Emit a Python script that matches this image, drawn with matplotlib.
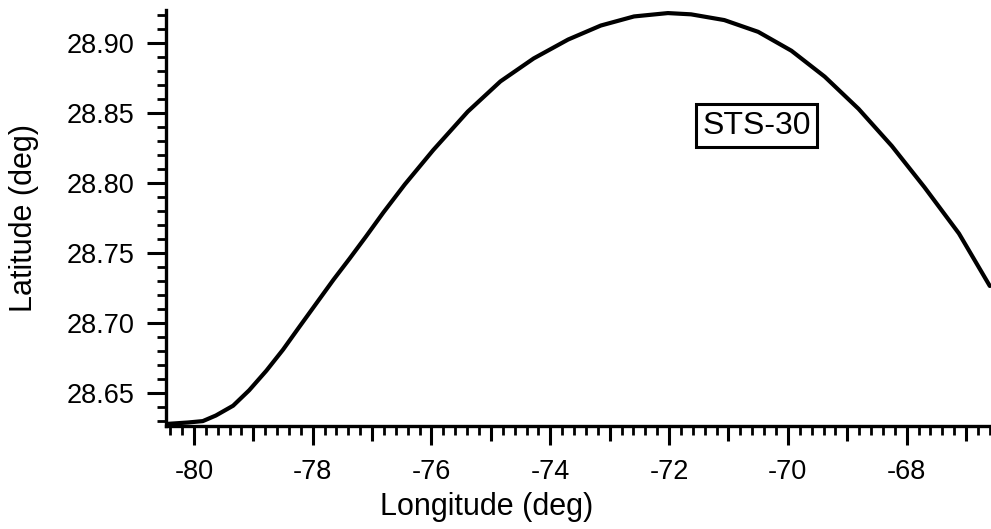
import matplotlib
matplotlib.use("Agg")
import matplotlib.pyplot as plt
from matplotlib.ticker import MultipleLocator, FormatStrFormatter

# ---- data ----
longitude = [-80.45, -80.10, -79.85, -79.63, -79.34, -79.07, -78.78, -78.50,
             -78.23, -77.94, -77.65, -77.38, -77.10, -76.81, -76.45, -75.97,
             -75.39, -74.84, -74.28, -73.70, -73.15, -72.59, -72.02, -71.63,
             -71.07, -70.50, -69.94, -69.38, -68.81, -68.25, -67.70, -67.12,
             -66.60]
latitude = [28.628, 28.629, 28.630, 28.634, 28.641, 28.652, 28.666, 28.681,
            28.697, 28.714, 28.731, 28.746, 28.762, 28.779, 28.799, 28.8236,
            28.851, 28.8726, 28.889, 28.9025, 28.9125, 28.9190, 28.9214, 28.9205,
            28.9164, 28.908, 28.8945, 28.876, 28.853, 28.8265, 28.797, 28.764,
            28.7265]
x_major_ticks = [-80, -78, -76, -74, -72, -70, -68]
x_mid_ticks = [-79, -77, -75, -73, -71, -69, -67]
y_major_ticks = [28.65, 28.70, 28.75, 28.80, 28.85, 28.90]
label_text = "STS-30"
label_pos = (-70.53, 28.841)

plt.rcParams['font.family'] = ['Liberation Sans', 'DejaVu Sans']

fig = plt.figure(figsize=(9.91, 5.29), dpi=100)
ax = fig.add_axes([166/991, 1-426/529, 1-166/991, (426-10)/529])

ax.plot(longitude, latitude, color='black', lw=3.0, solid_joinstyle='round',
        solid_capstyle='round')

ax.set_xlim(-80.47, -66.58)
ax.set_ylim(28.6265, 28.9236)

for s in ['top', 'right']:
    ax.spines[s].set_visible(False)
for s in ['left', 'bottom']:
    ax.spines[s].set_linewidth(2.4)

ax.set_xticks(x_major_ticks)
ax.xaxis.set_minor_locator(MultipleLocator(0.2))
ax.set_yticks(y_major_ticks)
ax.yaxis.set_minor_locator(MultipleLocator(0.01))
ax.yaxis.set_major_formatter(FormatStrFormatter('%.2f'))
ax.set_xticklabels([f"-{abs(v)}" for v in x_major_ticks])

ax.tick_params(axis='both', which='major', direction='out', length=14, width=2.2,
               labelsize=19.5)
ax.tick_params(axis='both', which='minor', direction='out', length=6.5, width=2.0)
ax.tick_params(axis='x', which='major', pad=10)
ax.tick_params(axis='y', which='major', pad=9)

# medium ticks at odd longitudes
sec = ax.secondary_xaxis('bottom')
sec.set_xticks(x_mid_ticks)
sec.set_xticklabels([])
sec.tick_params(axis='x', direction='out', length=10.5, width=2.2)
sec.spines['bottom'].set_visible(False)

ax.set_xlabel("Longitude (deg)", fontsize=22)
ax.xaxis.set_label_coords((487-166)/825, (426-492)/416)
ax.xaxis.label.set_va('top')
ax.set_ylabel("Latitude (deg)", fontsize=22)
ax.yaxis.label.set_va('center')
ax.yaxis.set_label_coords((24-166)/825, 0.5)

ax.text(label_pos[0], label_pos[1], label_text, fontsize=23, ha='center', va='center',
        bbox=dict(boxstyle='square,pad=0.2', facecolor='white', edgecolor='black', lw=2.2))

fig.savefig("out.png", dpi=100)
